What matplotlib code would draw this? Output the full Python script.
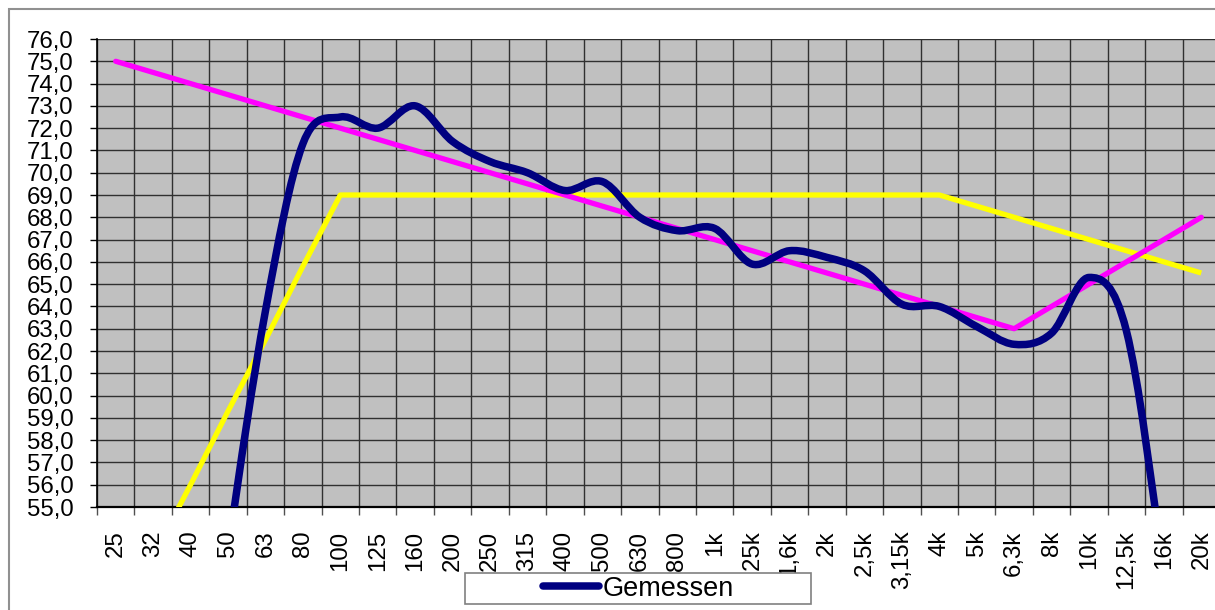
import numpy as np
import matplotlib.pyplot as plt
from matplotlib.path import Path
from matplotlib.patches import PathPatch, Rectangle
from matplotlib.lines import Line2D

plt.rcParams['font.family'] = ['Liberation Sans', 'DejaVu Sans']

# terzbaender
bands = ['25', '32', '40', '50', '63', '80', '100', '125', '160', '200',
         '250', '315', '400', '500', '630', '800', '1k', '1,25k', '1,6k', '2k',
         '2,5k', '3,15k', '4k', '5k', '6,3k', '8k', '10k', '12,5k', '16k', '20k']

# gemessener pegel (unter 55 nur geschaetzt, liegt ausserhalb)
gemessen = [25.0, 30.0, 40.0, 53.0, 63.8, 71.3, 72.5, 72.0, 73.0, 71.4,
            70.5, 70.0, 69.2, 69.6, 68.0, 67.4, 67.5, 65.9, 66.5, 66.2,
            65.6, 64.1, 64.0, 63.1, 62.3, 62.8, 65.3, 62.9, 52.0, 38.0]

# zielkurve (magenta)
ziel = [75.0, 74.5, 74.0, 73.5, 73.0, 72.5, 72.0, 71.5, 71.0, 70.5,
        70.0, 69.5, 69.0, 68.5, 68.0, 67.5, 67.0, 66.5, 66.0, 65.5,
        65.0, 64.5, 64.0, 63.5, 63.0, 64.0, 65.0, 66.0, 67.0, 68.0]

# grenzkurve (gelb)
grenze = [49.5, 52.8, 56.0, 59.3, 62.5, 65.8, 69.0, 69.0, 69.0, 69.0,
          69.0, 69.0, 69.0, 69.0, 69.0, 69.0, 69.0, 69.0, 69.0, 69.0,
          69.0, 69.0, 69.0, 68.5, 68.0, 67.5, 67.0, 66.5, 66.0, 65.5]

yticks = np.arange(55, 77, 1)


def smooth_path(x, y):
    # geglaettete linie wie in excel (catmull-rom als bezier)
    pts = np.column_stack([x, y])
    verts = [pts[0]]
    codes = [Path.MOVETO]
    for i in range(len(pts) - 1):
        p0 = pts[i - 1] if i > 0 else pts[i]
        p1 = pts[i]
        p2 = pts[i + 1]
        p3 = pts[i + 2] if i + 2 < len(pts) else pts[i + 1]
        verts += [p1 + (p2 - p0) / 6, p2 - (p3 - p1) / 6, p2]
        codes += [Path.CURVE4] * 3
    return Path(verts, codes)


fig = plt.figure(figsize=(12.15, 6.10), dpi=100)
ax = fig.add_axes([97 / 1215, 103 / 610, 1123 / 1215, 468 / 610])
ax.set_facecolor('#C0C0C0')

x = np.arange(len(bands))
ax.set_xlim(-0.5, len(bands) - 0.5)
ax.set_ylim(55, 76)

# gitter
for b in np.arange(-0.5, len(bands), 1):
    ax.axvline(b, color='#303030', lw=1.0, zorder=1)
for t in yticks:
    ax.axhline(t, color='#303030', lw=1.0, zorder=1)

ax.plot(x, grenze, color='#FFFF00', lw=3.8, zorder=3, solid_capstyle='butt')
ax.plot(x, ziel, color='#FF00FF', lw=3.8, zorder=4, solid_capstyle='round')
ax.add_patch(PathPatch(smooth_path(x, gemessen), fill=False, edgecolor='#000080',
                       lw=5.4, capstyle='round', joinstyle='round', zorder=5))

ax.set_yticks(yticks)
ax.set_yticklabels([f'{v:.1f}'.replace('.', ',') for v in yticks], fontsize=17.3)
ax.tick_params(axis='y', direction='out', length=5, width=1, pad=12)

ax.set_xticks(x)
ax.set_xticklabels(bands, rotation=90, fontsize=17.3, va='top')
ax.set_xticks(np.arange(-0.5, len(bands), 1), minor=True)
ax.tick_params(axis='x', which='major', length=0, pad=17)
ax.tick_params(axis='x', which='minor', direction='out', length=6, width=1, color='#505050')

for s in ['top', 'right']:
    ax.spines[s].set_visible(False)
ax.spines['left'].set_linewidth(1.2)
ax.spines['bottom'].set_linewidth(1.6)

# rahmen um das diagramm
fig.add_artist(Rectangle((9 / 1215, -0.1), 1.2, 1.1 - 9 / 610, transform=fig.transFigure,
                         fill=False, edgecolor='#909090', lw=1.5, zorder=0))

# legende
fig.add_artist(Rectangle((465 / 1215, 6 / 610), 346 / 1215, 31 / 610, transform=fig.transFigure,
                         facecolor='white', edgecolor='#808080', lw=1.2, zorder=5))
fig.legend(handles=[Line2D([], [], color='#000080', lw=5.4, solid_capstyle='round')],
           labels=['Gemessen'], loc='center', bbox_to_anchor=(638 / 1215, 21.5 / 610),
           frameon=False, fontsize=19.5, handlelength=2.1, handletextpad=0.1,
           borderpad=0, borderaxespad=0).set_zorder(6)

fig.savefig('out.png', dpi=100)
